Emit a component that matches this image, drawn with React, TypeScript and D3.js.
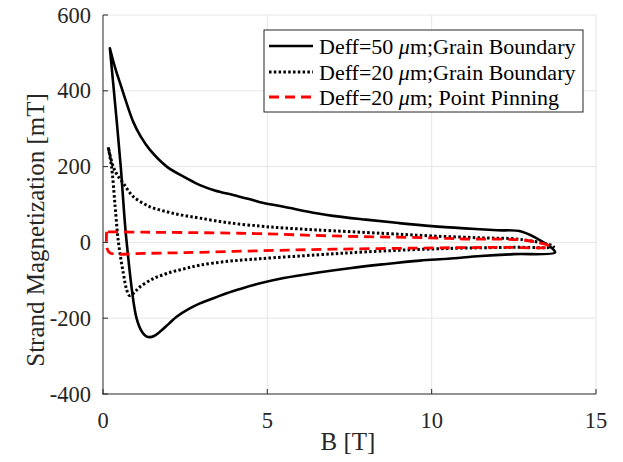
import React from "react";
import * as d3 from "d3";

type P = [number, number];

// Deff=50 µm; Grain Boundary (B [T], M [mT]) — closed loop
const solidB = [0.21, 0.38, 0.54, 0.72, 1.02, 1.2, 1.32, 1.43, 1.55, 1.73, 2.0, 2.24, 2.6, 2.95, 3.4, 3.76, 4.2, 4.78, 5.5, 6.5, 7.5, 8.5, 9.64, 10.5, 11.5, 12.5, 13.75,
  13.72, 12.75, 12.0, 11.0, 10.0, 9.0, 8.0, 7.0, 6.5, 5.5, 4.78, 4.47, 3.96, 3.4, 2.95, 2.55, 1.94, 1.43, 1.15, 0.92, 0.7, 0.52, 0.4, 0.3, 0.21];
const solidM = [512, 355, 200, 0, -200, -238, -248, -250, -247, -236, -215, -196, -176, -161, -146, -134, -122, -108, -94, -80, -68, -58, -48, -43, -36, -31, -27,
  -20, 28, 32, 37, 43, 51, 60, 70, 77, 94, 106, 114, 125, 137, 151, 169, 200, 244, 279, 318, 372, 420, 452, 482, 512];

// Deff=20 µm; Grain Boundary
const dotB = [0.16, 0.26, 0.37, 0.47, 0.62, 0.72, 0.8, 0.88, 1.0, 1.13, 1.5, 1.94, 2.45, 2.95, 3.8, 4.78, 6.5, 8.0, 9.8, 11.0, 12.5, 13.7,
  13.7, 12.7, 11.5, 10.0, 8.5, 6.5, 5.5, 4.78, 3.8, 2.95, 2.4, 1.94, 1.43, 0.92, 0.62, 0.42, 0.31, 0.16];
const dotM = [251, 200, 94, 0, -82, -125, -140, -138, -128, -117, -97, -82, -70, -60, -50, -43, -33, -25, -18, -15, -13, -12,
  -10, 8, 12, 17, 24, 33, 38, 43, 52, 64, 72, 81, 94, 121, 156, 180, 200, 251];

// Deff=20 µm; Point Pinning
const dashB = [0.11, 0.12, 0.2, 0.37, 1.23, 2.5, 4.78, 7.0, 9.6, 12.0, 13.6,
  13.6, 12.9, 11.0, 9.95, 7.0, 4.78, 3.5, 1.23, 0.11];
const dashM = [28, -15, -27, -31, -29, -27, -22, -18, -15, -13, -12,
  -10, 5, 9, 12, 17, 23, 25, 27, 28];

const xTicks = [0, 5, 10, 15];
const yTicks = [-400, -200, 0, 200, 400, 600];

const legendLabels = ["Deff=50 ", "Deff=20 ", "Deff=20 "];
const legendTails = ["m;Grain Boundary", "m;Grain Boundary", "m; Point Pinning"];

const zip = (a: number[], b: number[]): P[] => a.map((v, i) => [v, b[i]]);

export default function App() {
  const W = 623, H = 462;
  const x = d3.scaleLinear().domain([0, 15]).range([103, 596]);
  const y = d3.scaleLinear().domain([-400, 600]).range([394, 15]);
  const line = d3.line<P>().x((d) => x(d[0])).y((d) => y(d[1])).curve(d3.curveCatmullRom.alpha(0.5));
  const font = "'Liberation Serif', 'Times New Roman', serif";
  const axisColor = "#262626";
  const series = [
    { d: zip(solidB, solidM), color: "#000", dash: undefined as string | undefined, w: 2.6 },
    { d: zip(dotB, dotM), color: "#000", dash: "2.5 2.3", w: 3 },
    { d: zip(dashB, dashM), color: "#ff0000", dash: "10 6", w: 2.8 },
  ];
  const legRows = [46, 72, 97];
  return (
    <svg width={W} height={H} style={{ position: "absolute", left: 0, top: 0, background: "#fff" }}>
      <rect x={0} y={0} width={W} height={H} fill="#fff" />
      {/* grid */}
      {xTicks.slice(1).map((t) => (
        <line key={"gx" + t} x1={x(t)} x2={x(t)} y1={15} y2={394} stroke="#e6e6e6" strokeWidth={1} />
      ))}
      {yTicks.slice(1).map((t) => (
        <line key={"gy" + t} x1={103} x2={596} y1={y(t)} y2={y(t)} stroke="#e6e6e6" strokeWidth={1} />
      ))}
      {/* series */}
      {series.map((s, i) => (
        <path key={i} d={line(s.d) || ""} fill="none" stroke={s.color} strokeWidth={s.w}
          strokeDasharray={s.dash} strokeLinejoin="round" strokeLinecap={s.dash ? "butt" : "round"} />
      ))}
      {/* axes */}
      <line x1={103} x2={103} y1={15} y2={394.5} stroke={axisColor} strokeWidth={1} />
      <line x1={102.5} x2={596} y1={394} y2={394} stroke={axisColor} strokeWidth={1} />
      {yTicks.map((t) => (
        <g key={"yt" + t}>
          <line x1={103} x2={108} y1={y(t)} y2={y(t)} stroke={axisColor} />
          <text x={91} y={y(t)} textAnchor="end" dominantBaseline="central" fontFamily={font} fontSize={22.5} fill="#262626">{t}</text>
        </g>
      ))}
      {xTicks.map((t) => (
        <g key={"xt" + t}>
          <line x1={x(t)} x2={x(t)} y1={394} y2={389} stroke={axisColor} />
          <text x={x(t)} y={420} textAnchor="middle" dominantBaseline="central" fontFamily={font} fontSize={22.5} fill="#262626">{t}</text>
        </g>
      ))}
      <text x={348} y={441} textAnchor="middle" dominantBaseline="central" fontFamily={font} fontSize={25} fill="#262626">B [T]</text>
      <text transform={`translate(35,230) rotate(-90)`} textAnchor="middle" dominantBaseline="central" fontFamily={font} fontSize={25} fill="#262626">Strand Magnetization [mT]</text>
      {/* legend */}
      <rect x={264} y={30} width={319} height={82} fill="#fff" stroke="#262626" strokeWidth={1} />
      {series.map((s, i) => (
        <g key={"lg" + i}>
          <line x1={269} x2={313} y1={legRows[i]} y2={legRows[i]} stroke={s.color} strokeWidth={s.w} strokeDasharray={s.dash} />
          <text x={319} y={legRows[i]} dominantBaseline="central" fontFamily={font} fontSize={22} fill="#000">
            {legendLabels[i]}<tspan fontStyle="italic">μ</tspan>{legendTails[i]}
          </text>
        </g>
      ))}
    </svg>
  );
}
